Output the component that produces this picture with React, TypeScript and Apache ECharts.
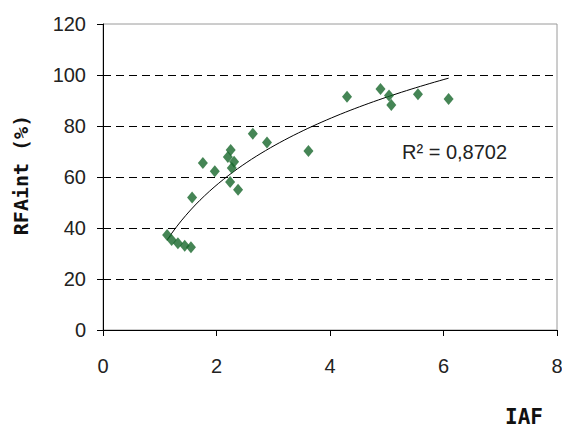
import React, { useEffect, useRef } from "react";
import * as echarts from "echarts";

// IAF (x) values of the measured points
const iafValues: number[] = [
  1.13, 1.21, 1.32, 1.44, 1.55, 1.57, 1.76, 1.97, 2.2, 2.25, 2.31, 2.27, 2.24,
  2.38, 2.64, 2.89, 3.62, 4.3, 4.89, 5.04, 5.08, 5.55, 6.09,
];
// RFAint (%) values of the measured points
const rfaValues: number[] = [
  37.3, 35.3, 34, 33, 32.5, 52, 65.5, 62.3, 67.8, 70.6, 66, 63.5, 58, 55, 77,
  73.5, 70.2, 91.5, 94.5, 92, 88.2, 92.5, 90.6,
];
const xTicks = { min: 0, max: 8, interval: 2 };
const yTicks = { min: 0, max: 120, interval: 20 };
const dashedGridValues: number[] = [20, 40, 60, 80, 100];
const r2Label = "R² = 0,8702";
const yAxisTitle = "RFAint (%)";
const xAxisTitle = "IAF";

function logFit(xs: number[], ys: number[]) {
  const n = xs.length;
  let sl = 0, sy = 0, sly = 0, sll = 0;
  for (let i = 0; i < n; i++) {
    const l = Math.log(xs[i]);
    sl += l; sy += ys[i]; sly += l * ys[i]; sll += l * l;
  }
  const a = (n * sly - sl * sy) / (n * sll - sl * sl);
  const b = (sy - a * sl) / n;
  return { a, b };
}

export default function App() {
  const ref = useRef<HTMLDivElement>(null);
  useEffect(() => {
    if (!ref.current) return;
    const chart = echarts.init(ref.current, undefined, { renderer: "svg" });
    const points = iafValues.map((x, i) => [x, rfaValues[i]]);
    const { a, b } = logFit(iafValues, rfaValues);
    const minX = Math.min(...iafValues);
    const maxX = Math.max(...iafValues);
    const steps = 60;
    const trend: number[][] = [];
    for (let i = 0; i <= steps; i++) {
      const x = minX + ((maxX - minX) * i) / steps;
      trend.push([x, a * Math.log(x) + b]);
    }
    const labelFont = "Liberation Sans, Arial, sans-serif";
    chart.setOption({
      animation: false,
      backgroundColor: "#fff",
      grid: {
        left: 103,
        right: 5,
        top: 24,
        bottom: 100,
        show: true,
        borderColor: "#9a9a9a",
        borderWidth: 1,
        outerBoundsMode: "none",
      },
      xAxis: {
        type: "value",
        min: xTicks.min,
        max: xTicks.max,
        interval: xTicks.interval,
        axisLine: { show: true, onZero: false, lineStyle: { color: "#000", width: 1 } },
        axisTick: { show: true, length: 6, lineStyle: { color: "#000" } },
        splitLine: { show: false },
        axisLabel: {
          margin: 26,
          fontSize: 20,
          fontFamily: labelFont,
          color: "#222",
        },
      },
      yAxis: {
        type: "value",
        min: yTicks.min,
        max: yTicks.max,
        interval: yTicks.interval,
        axisLine: { show: true, onZero: false, lineStyle: { color: "#000", width: 1 } },
        axisTick: { show: true, length: 6, lineStyle: { color: "#000" } },
        splitLine: { show: false },
        axisLabel: {
          margin: 17,
          fontSize: 20,
          fontFamily: labelFont,
          color: "#222",
        },
      },
      series: [
        {
          type: "line",
          data: trend,
          showSymbol: false,
          symbol: "none",
          smooth: false,
          lineStyle: { color: "#000", width: 1 },
          silent: true,
          z: 3,
          markLine: {
            silent: true,
            symbol: ["none", "none"],
            label: { show: false },
            lineStyle: { color: "#000", type: [8, 5], width: 1 },
            data: dashedGridValues.map((v) => ({ yAxis: v })),
          },
        },
        {
          type: "scatter",
          data: points,
          symbol: "diamond",
          symbolSize: [10, 12],
          itemStyle: { color: "#16662a" },
          z: 4,
        },
      ],
      graphic: [
        {
          type: "text",
          x: 402,
          y: 152,
          style: {
            text: r2Label,
            font: "20px Liberation Sans, Arial, sans-serif",
            fill: "#222",
            verticalAlign: "middle",
            align: "left",
          },
        },
        {
          type: "text",
          x: 21,
          y: 175,
          rotation: Math.PI / 2,
          style: {
            text: yAxisTitle,
            font: "bold 20px DejaVu Sans Mono, monospace",
            fill: "#111",
            align: "center",
            verticalAlign: "middle",
          },
        },
        {
          type: "text",
          x: 524,
          y: 417,
          style: {
            text: xAxisTitle,
            font: "bold 21px DejaVu Sans Mono, monospace",
            fill: "#111",
            align: "center",
            verticalAlign: "middle",
          },
        },
      ],
    });
    return () => chart.dispose();
  }, []);
  return (
    <div
      ref={ref}
      style={{ position: "fixed", left: 0, top: 0, width: 562, height: 430, background: "#fff" }}
    />
  );
}
